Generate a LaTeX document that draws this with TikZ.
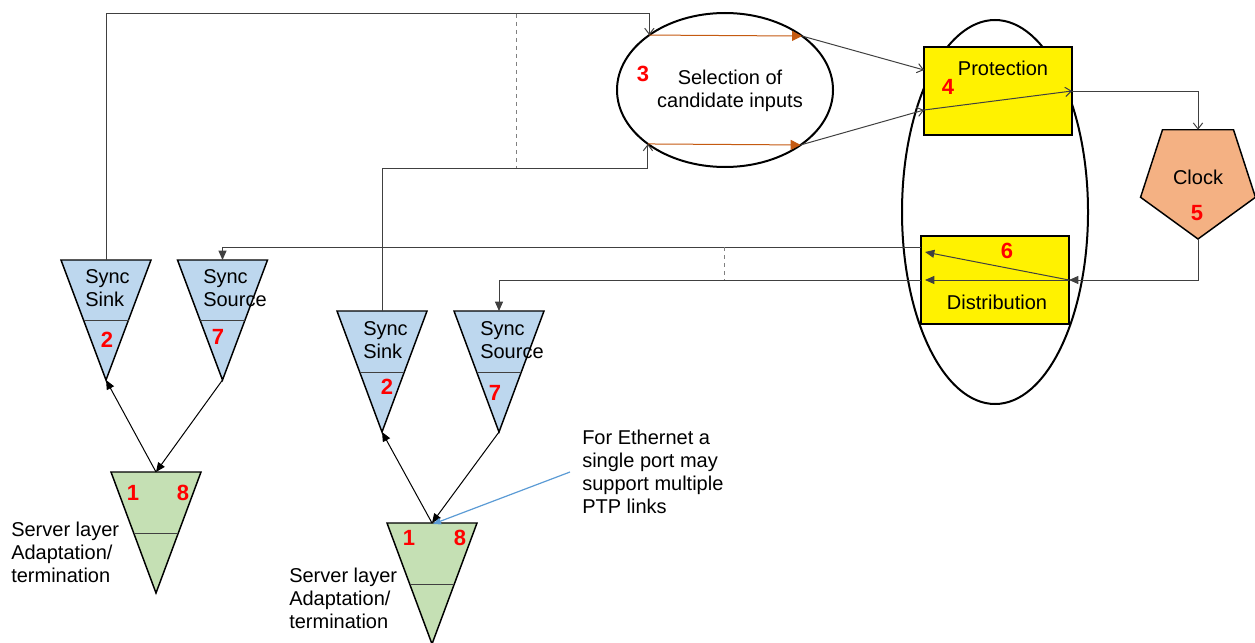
\documentclass[tikz,border=0pt]{standalone}
\usepackage{fontspec}
\setmainfont{Liberation Sans}
\usetikzlibrary{arrows.meta,shapes.geometric}
\definecolor{triblue}{HTML}{BDD7EE}
\definecolor{trigreen}{HTML}{C5E0B4}
\definecolor{peach}{HTML}{F4B183}
\definecolor{orng}{HTML}{C55A11}
\definecolor{annblue}{HTML}{5B9BD5}
\definecolor{conngray}{HTML}{404040}
\tikzset{
  txt/.style={font=\fontsize{15}{17.25}\selectfont, inner sep=0pt, align=left},
  num/.style={font=\fontsize{16.5}{18}\selectfont\bfseries, text=red, inner sep=0pt},
  box/.style={draw, line width=1.1pt, fill=yellow, minimum width=111pt, minimum height=66pt, inner sep=0pt, outer sep=0pt},
  conn/.style={draw=conngray, line width=0.75pt},
  openarr/.style={-{Straight Barb[length=4.5pt,width=7pt]}},
  fillarr/.style={-{Triangle[length=7pt,width=6pt]}},
  dashln/.style={draw=gray, dashed, line width=0.6pt},
  pics/vtri/.style n args={3}{code={
     \draw[fill=#1, line width=1.1pt, line join=miter] (-45,0) -- (45,0) -- (0,#2) -- cycle;
     \draw[line width=0.75pt, draw=conngray] ({-45*(1-#3/#2)},#3) -- ({45*(1-#3/#2)},#3);
     \coordinate (-top) at (0,0);
     \coordinate (-tip) at (0,#2);
  }}
}
\begin{document}
\begin{tikzpicture}[x=0.75pt,y=-0.75pt]
\useasboundingbox (0,0) rectangle (1255,642);

% large grouping ellipse
\node[ellipse, draw, line width=1.5pt, minimum width=139.5pt, minimum height=288pt, inner sep=0pt, outer sep=0pt] (grp) at (995,212) {};

% selection ellipse
\node[ellipse, draw, fill=white, line width=1.5pt, minimum width=162pt, minimum height=115.5pt, inner sep=0pt, outer sep=0pt] (sel) at (725,90) {};
\node[txt, align=center] (seltxt) at (730,91) {Selection of\\candidate inputs};
\node[num] (n3) at (643,74) {3};

% protection and distribution
\node[box] (prot) at (998,91) {};
\node[txt] (prottxt) at (1003,68) {Protection};
\node[num] (n4) at (948,87) {4};

\node[box] (dist) at (995,280) {};
\node[txt] (disttxt) at (997,302) {Distribution};
\node[num] (n6) at (1007,251) {6};

% clock
\node[regular polygon, regular polygon sides=5, shape border rotate=180, draw, line width=1.1pt, fill=peach, minimum size=90.6pt, inner sep=0pt, outer sep=0pt] (clk) at (1198,178.6) {};
\node[txt] (clktxt) at (1198,177) {Clock};
\node[num] (n5) at (1197,213) {5};

% triangles
\pic (sk1) at (106,260) {vtri={triblue}{120}{60}};
\pic (so1) at (222.5,260) {vtri={triblue}{120}{60}};
\pic (sk2) at (382,311) {vtri={triblue}{121}{61}};
\pic (so2) at (499,311) {vtri={triblue}{121}{61}};
\pic (g1) at (156,472) {vtri={trigreen}{121}{61}};
\pic (g2) at (432,523) {vtri={trigreen}{121}{61}};

\node[txt, anchor=west] (sk1txt) at (85,288) {Sync\\Sink};
\node[txt, anchor=west] (so1txt) at (203,288) {Sync\\Source};
\node[txt, anchor=west] (sk2txt) at (363,340) {Sync\\Sink};
\node[txt, anchor=west] (so2txt) at (480,340) {Sync\\Source};
\node[num] (n2a) at (107,340) {2};
\node[num] (n7a) at (218,337) {7};
\node[num] (n2b) at (387,387) {2};
\node[num] (n7b) at (495,393) {7};
\node[num] (n1a) at (133,493) {1};
\node[num] (n8a) at (183,493) {8};
\node[num] (n1b) at (409,538) {1};
\node[num] (n8b) at (460,538) {8};

\node[txt, anchor=west] (srv1) at (11,552) {Server layer\\Adaptation/\\termination};
\node[txt, anchor=west] (srv2) at (289,598) {Server layer\\Adaptation/\\termination};
\node[txt, anchor=west] (note) at (582,472) {For Ethernet a\\single port may\\support multiple\\PTP links};

% connectors to selection
\coordinate (topy) at (0,14);
\coordinate (boty) at (0,168);
\draw[conn, openarr] (sk1-top) |- (sel.144.3 |- topy) -- (sel.144.3);
\draw[conn, openarr] (sk2-top) |- (sel.215.7 |- boty) -- (sel.215.7);
\coordinate (da1) at (516,14);
\coordinate (da2) at (516,168);
\draw[dashln] (da1) -- (da2);

\draw[draw=orng, line width=0.75pt, -{Triangle[length=7.5pt,width=7.5pt]}] (sel.144.3) -- (sel.35.7);
\draw[draw=orng, line width=0.75pt, -{Triangle[length=7.5pt,width=7.5pt]}] (sel.215.7) -- (sel.324.3);

% selection to protection to clock
\coordinate (pin1) at ([yshift=15.75pt]prot.west);
\coordinate (pin2) at ([yshift=-14.25pt]prot.west);
\draw[conn, openarr] (sel.35.7) -- (pin1);
\draw[conn, openarr] (sel.324.3) -- (pin2);
\draw[conn, openarr] (pin2) -- (prot.east);
\draw[conn, openarr] (prot.east) -| (clk.north);

% clock to distribution to sources
\draw[conn, fillarr] (clk.south) |- (dist.east);
\coordinate (dtop) at ([yshift=24.75pt]dist.west);
\coordinate (dmid) at ([xshift=3pt,yshift=21pt]dist.west);
\draw[conn, fillarr] (dist.east) -- (dmid);
\draw[conn, fillarr] (dist.east) -- ([xshift=3pt]dist.west);
\draw[conn, fillarr] (dtop) -| (so1-top);
\draw[conn, fillarr] (dist.west) -| (so2-top);
\coordinate (db1) at (724,247);
\coordinate (db2) at (724,280);
\draw[dashln] (db1) -- (db2);

% server layer to sink/source
\draw[conn, draw=black, fillarr] (g1-top) -- (sk1-tip);
\draw[conn, draw=black, fillarr] (so1-tip) -- (g1-top);
\draw[conn, draw=black, fillarr] (g2-top) -- (sk2-tip);
\draw[conn, draw=black, fillarr] (so2-tip) -- (g2-top);

% annotation
\draw[annblue, line width=0.9pt, -{Triangle[length=6pt,width=5pt]}] ([xshift=-9pt]note.west) -- ([xshift=0.75pt,yshift=-0.75pt]g2-top);
\end{tikzpicture}
\end{document}
